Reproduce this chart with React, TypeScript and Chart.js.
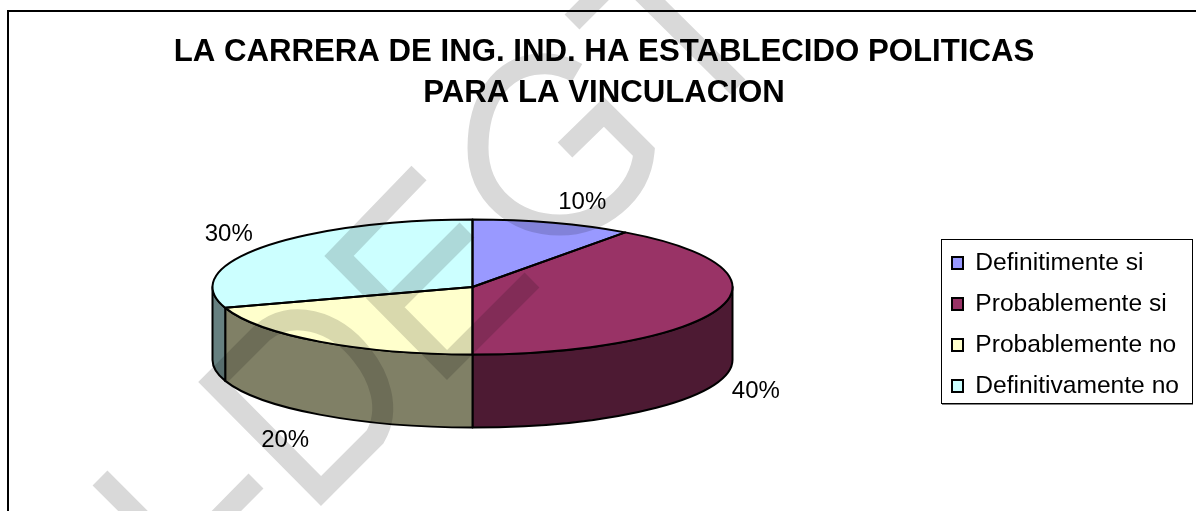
import React, { useEffect, useRef } from "react";
import { Chart, registerables } from "chart.js";

Chart.register(...registerables);

const titleLines = ["LA CARRERA DE ING. IND. HA ESTABLECIDO POLITICAS", "PARA LA VINCULACION"];
const categories = ["Definitimente si", "Probablemente si", "Probablemente no", "Definitivamente no"];
const values = [10, 40, 20, 30];
const topColors = ["#9999ff", "#993366", "#ffffcc", "#ccffff"];
const sideColors = ["#4d4d80", "#4d1a33", "#808066", "#668080"];
const labelNudges = [[17, 3], [-2, 3], [-11, 6], [-1, 1]];

const FONT = "'Liberation Sans', Arial, sans-serif";
const CX = 472.5, CY = 287, RX = 260, RY = 67.5, DEPTH = 73;
const LEGEND_SIZE = 24.6;

const watermarkPaths = [
  "M100 478 L180 558 L256 481",
  "M321 491 L213 382 L262 333 C290 308 335 320 362 355 C378 375 392 408 375 437 Z",
  "M419 173 L339 256 L447 365 L532 280 M390 307 L467 230",
  "M577 73 C565 66 552 63 540 64 C500 66 478 102 478 148 C478 195 515 225 560 225 C600 225 640 195 644 152 L604 112 L565 150",
  "M738 87 L630 -20",
  "M572 22 L610 -16",
];

const pie3d = {
  id: "pie3d",
  beforeDraw(chart: any) {
    const { ctx } = chart;
    ctx.save();
    ctx.strokeStyle = "#000";
    ctx.lineWidth = 2;
    ctx.beginPath();
    ctx.moveTo(8, 511);
    ctx.lineTo(8, 11);
    ctx.lineTo(1196, 11);
    ctx.stroke();
    ctx.restore();
  },
  afterLayout(chart: any) {
    const lg = chart.legend;
    const pad = lg.options.labels.padding;
    lg.left = 952 - pad;
    lg.right = 1196;
    lg.top = 263 - LEGEND_SIZE / 2 - pad;
    lg.bottom = 511;
  },
  beforeDatasetsDraw(chart: any) {
    const { ctx } = chart;
    const arcs = chart.getDatasetMeta(0).data;
    ctx.save();
    ctx.strokeStyle = "#000";
    ctx.lineWidth = 1;
    ctx.strokeRect(941.5, 239.5, 251, 164);
    ctx.strokeStyle = "#808080";
    ctx.beginPath();
    ctx.moveTo(942, 404.5);
    ctx.lineTo(1193, 404.5);
    ctx.stroke();
    ctx.lineWidth = 2;
    ctx.strokeStyle = "#000";
    ctx.lineJoin = "round";
    arcs.forEach((arc: any, i: number) => {
      const tp = 2 * Math.PI;
      const s = arc.startAngle, e = arc.endAngle;
      [0, tp].forEach((k) => {
        const a = Math.max(s - k, 0);
        const b = Math.min(e - k, Math.PI);
        if (b <= a) return;
        ctx.beginPath();
        ctx.ellipse(CX, CY, RX, RY, 0, a, b);
        ctx.lineTo(CX + RX * Math.cos(b), CY + RY * Math.sin(b) + DEPTH);
        ctx.ellipse(CX, CY + DEPTH, RX, RY, 0, b, a, true);
        ctx.closePath();
        ctx.fillStyle = sideColors[i];
        ctx.fill();
        ctx.stroke();
      });
    });
    ctx.restore();
    const first = arcs[0];
    ctx.save();
    ctx.translate(CX, CY);
    ctx.scale(RX / first.outerRadius, RY / first.outerRadius);
    ctx.translate(-first.x, -first.y);
  },
  afterDatasetsDraw(chart: any) {
    const { ctx } = chart;
    ctx.restore();
    const arcs = chart.getDatasetMeta(0).data;
    ctx.save();
    ctx.strokeStyle = "#000";
    ctx.lineWidth = 2;
    ctx.lineJoin = "round";
    arcs.forEach((arc: any) => {
      ctx.beginPath();
      ctx.moveTo(CX, CY);
      ctx.ellipse(CX, CY, RX, RY, 0, arc.startAngle, arc.endAngle);
      ctx.closePath();
      ctx.stroke();
    });
    ctx.fillStyle = "#000";
    ctx.font = `24px ${FONT}`;
    ctx.textAlign = "center";
    ctx.textBaseline = "middle";
    arcs.forEach((arc: any, i: number) => {
      const mid = (arc.startAngle + arc.endAngle) / 2;
      const lower = Math.sin(mid) > 0;
      const x = CX + 300 * Math.cos(mid) + labelNudges[i][0];
      const y = CY + 92 * Math.sin(mid) + (lower ? DEPTH : 0) + labelNudges[i][1];
      ctx.fillText(`${values[i]}%`, x, y);
    });
    ctx.restore();
  },
  afterDraw(chart: any) {
    const { ctx } = chart;
    ctx.save();
    ctx.globalCompositeOperation = "multiply";
    ctx.strokeStyle = "#d9d9d9";
    ctx.lineWidth = 21;
    ctx.lineCap = "butt";
    ctx.lineJoin = "miter";
    watermarkPaths.forEach((d) => ctx.stroke(new Path2D(d)));
    ctx.restore();
  },
};

export default function App() {
  const ref = useRef<HTMLCanvasElement>(null);
  useEffect(() => {
    const chart = new Chart(ref.current!, {
      type: "pie",
      data: {
        labels: categories,
        datasets: [{ data: values, backgroundColor: topColors, borderWidth: 0, clip: false } as any],
      },
      options: {
        animation: false,
        responsive: false,
        devicePixelRatio: 1,
        layout: { padding: { left: 12, right: 0, top: 0, bottom: 0 } },
        plugins: {
          tooltip: { enabled: false },
          title: {
            display: true,
            text: titleLines,
            color: "#000",
            font: { family: FONT, size: 31.2, weight: "bold", lineHeight: 41 / 31.2 },
            padding: { top: 31.5, bottom: 10 },
          },
          legend: {
            position: "right",
            align: "start",
            labels: {
              color: "#000",
              font: { family: FONT, size: LEGEND_SIZE },
              boxWidth: 11,
              boxHeight: 12,
              padding: 41 - LEGEND_SIZE,
              generateLabels(chart: any) {
                const base = (Chart as any).overrides.pie.plugins.legend.labels.generateLabels(chart);
                return base.map((it: any) => ({ ...it, strokeStyle: "#000", lineWidth: 2 }));
              },
            },
          },
        },
      },
      plugins: [pie3d],
    } as any);
    return () => chart.destroy();
  }, []);
  return (
    <canvas
      ref={ref}
      width={1196}
      height={511}
      style={{ position: "fixed", left: 0, top: 0, width: 1196, height: 511, display: "block" }}
    />
  );
}
